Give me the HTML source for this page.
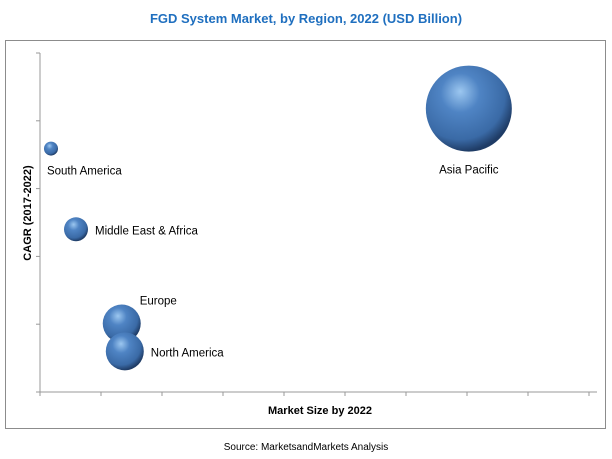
<!DOCTYPE html>
<html><head><meta charset="utf-8"><style>
body{margin:0;background:#fff;}
svg{display:block;font-family:"Liberation Sans",sans-serif;}
</style></head><body>
<svg width="612" height="459">
<defs>
<radialGradient id="g" cx="0.4" cy="0.35" r="0.65" fx="0.4" fy="0.3">
<stop offset="0" stop-color="#9cc7f0"/>
<stop offset="0.35" stop-color="#4f84c4"/>
<stop offset="0.8" stop-color="#3a6aa6"/>
<stop offset="1" stop-color="#1f3c66"/>
</radialGradient>
</defs>
<text x="306" y="23" text-anchor="middle" font-size="13" font-weight="bold" fill="#1f6fbf">FGD System Market, by Region, 2022 (USD Billion)</text>
<rect x="5.5" y="40.5" width="600" height="388" fill="none" stroke="#8c8c8c"/>
<g id="axes"></g>
<g id="bubbles"></g>
<text x="320" y="414" text-anchor="middle" font-size="11" font-weight="bold" fill="#000">Market Size by 2022</text>
<text transform="translate(31,213) rotate(-90)" text-anchor="middle" font-size="11" font-weight="bold" fill="#000">CAGR (2017-2022)</text>
<text x="306" y="450" text-anchor="middle" font-size="10" fill="#000">Source: MarketsandMarkets Analysis</text>
</svg>
<script>
const regions=["South America","Middle East & Africa","Europe","North America","Asia Pacific"];
const marketSize=[0.18,0.59,1.34,1.39,7.03];
const cagr=[3.59,2.4,1.01,0.6,4.18];
const bubbleSize=[7,12,19,19,43];
const labelPos=["below","right","above","right","below"];
const xTicks=[0,1,2,3,4,5,6,7,8,9];
const yTicks=[0,1,2,3,4,5];
const ns="http://www.w3.org/2000/svg";
const X0=40,XS=61,Y0=392,YS=67.8;
const xs=v=>X0+v*XS, ys=v=>Y0-v*YS;
function mk(t,a,p){const e=document.createElementNS(ns,t);for(const k in a)e.setAttribute(k,a[k]);p.appendChild(e);return e;}
const ax=document.getElementById('axes');
let l=mk('line',{x1:X0,y1:ys(5),x2:X0,y2:Y0,stroke:'#999'},ax);


l=mk('line',{x1:X0,y1:Y0,x2:597,y2:Y0,stroke:'#999'},ax);


yTicks.forEach(t=>{const e=mk('line',{x1:X0-4,x2:X0,y1:ys(t),y2:ys(t),stroke:'#999'},ax);

});
xTicks.forEach(t=>{const e=mk('line',{x1:xs(t),x2:xs(t),y1:Y0,y2:Y0+4,stroke:'#999'},ax);

});
const bg=document.getElementById('bubbles');
regions.forEach((r,i)=>{
const cx=xs(marketSize[i]),cy=ys(cagr[i]),rr=bubbleSize[i];
const c=mk('circle',{cx:cx,cy:cy,r:rr,fill:'url(#g)'},bg);


let tx,ty,anc='start';
if(labelPos[i]=='below'){ty=cy+rr+(i==0?19:22);if(i==0){tx=cx-4;anc='start';}else{tx=cx;anc='middle';}}
else if(labelPos[i]=='above'){tx=cx+18;ty=cy-19;}
else{tx=cx+rr+7;ty=cy+5;}
const t=mk('text',{x:tx,y:ty,'text-anchor':anc,'font-size':'11.5',fill:'#000'},bg);
t.textContent=r;


});
</script>
</body></html>
